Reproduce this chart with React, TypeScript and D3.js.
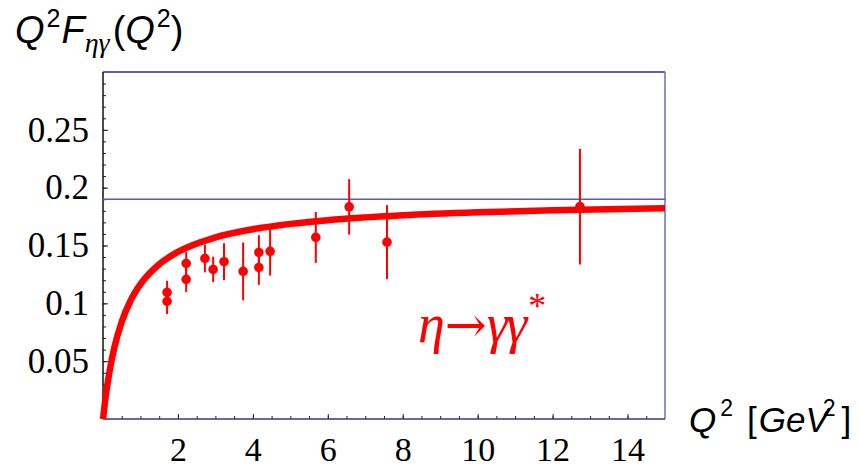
import React, { useEffect, useRef } from 'react'
import * as d3 from 'd3'

// measured data points (Q^2, Q^2 F, error)
const dataQ2 = [1.71, 1.71, 2.22, 2.22, 2.72, 2.94, 3.23, 3.74, 4.16, 4.16, 4.46, 5.68, 6.57, 7.58, 12.73]
const dataF = [0.1095, 0.1017, 0.1345, 0.1207, 0.1388, 0.1293, 0.136, 0.1276, 0.144, 0.131, 0.145, 0.157, 0.1834, 0.1529, 0.1836]
const dataErr = [0.01, 0.011, 0.01, 0.011, 0.012, 0.011, 0.016, 0.025, 0.015, 0.015, 0.021, 0.022, 0.024, 0.032, 0.05]

// theory curve
const curveQ2 = [0, 0.05, 0.1, 0.2, 0.3, 0.5, 0.75, 1, 1.5, 2, 3, 4, 5, 6, 8, 10, 12, 15]
const curveF = [0, 0.014, 0.026, 0.0458, 0.0613, 0.0841, 0.1033, 0.1166, 0.1338, 0.1445, 0.157, 0.1641, 0.1687, 0.1719, 0.1761, 0.1787, 0.1805, 0.1823]

const asymptote = 0.19
const xTicks = [2, 4, 6, 8, 10, 12, 14]
const yTicks = [0.05, 0.1, 0.15, 0.2, 0.25]

const W = 859, H = 467
const margin = { top: 72, right: 195, bottom: 48, left: 103 }

export default function App() {
  const ref = useRef<SVGSVGElement>(null)

  useEffect(() => {
    const svg = d3.select(ref.current)
    svg.selectAll('*').remove()

    const x = d3.scaleLinear().domain([0, 15]).range([margin.left, W - margin.right + 1])
    const y = d3.scaleLinear().domain([0, 0.3]).range([H - margin.bottom, margin.top])

    const serif = '"Liberation Serif", "Times New Roman", serif'
    const sans = '"Liberation Sans", Arial, sans-serif'

    // minor ticks
    svg.append('g')
      .attr('transform', `translate(${margin.left},0)`)
      .call(d3.axisLeft(y).tickValues(d3.range(1, 30).map(i => i / 100)).tickSizeInner(-3).tickSizeOuter(0).tickFormat(() => ''))
      .call(g => g.select('.domain').remove())
      .call(g => g.selectAll('line').attr('stroke', '#222'))
    svg.append('g')
      .attr('transform', `translate(0,${y(0)})`)
      .call(d3.axisBottom(x).tickValues(d3.range(1, 30).map(i => i / 2)).tickSizeInner(-3).tickSizeOuter(0).tickFormat(() => ''))
      .call(g => g.select('.domain').remove())
      .call(g => g.selectAll('line').attr('stroke', '#222'))

    // major ticks + labels
    const yAxis = svg.append('g')
      .attr('transform', `translate(${margin.left},0)`)
      .call(d3.axisLeft(y).tickValues(yTicks).tickSizeInner(-5).tickSizeOuter(0).tickPadding(14).tickFormat(d => String(d)))
    yAxis.select('.domain').remove()
    yAxis.selectAll('line').attr('stroke', '#222')
    yAxis.selectAll('text').attr('font-family', serif).attr('font-size', 35).attr('fill', '#000')

    const xAxis = svg.append('g')
      .attr('transform', `translate(0,${y(0)})`)
      .call(d3.axisBottom(x).tickValues(xTicks).tickSizeInner(-5).tickSizeOuter(0).tickPadding(18).tickFormat(d => String(d)))
    xAxis.select('.domain').remove()
    xAxis.selectAll('line').attr('stroke', '#222')
    xAxis.selectAll('text').attr('font-family', serif).attr('font-size', 34).attr('fill', '#000')

    // frame
    const [x0, x1] = x.range()
    const [yb, yt] = y.range()
    svg.append('line').attr('x1', x0).attr('x2', x1).attr('y1', yt).attr('y2', yt).attr('stroke', '#2a2a96').attr('stroke-width', 1.5)
    svg.append('line').attr('x1', x1).attr('x2', x1).attr('y1', yt).attr('y2', yb).attr('stroke', '#6c6cbc').attr('stroke-width', 1.5)
    svg.append('line').attr('x1', x0).attr('x2', x1).attr('y1', yb).attr('y2', yb).attr('stroke', '#3a3a6a').attr('stroke-width', 1.5)
    svg.append('line').attr('x1', x0).attr('x2', x0).attr('y1', yt).attr('y2', yb).attr('stroke', '#111').attr('stroke-width', 1.5)

    // asymptote
    svg.append('line').attr('x1', x0).attr('x2', x1).attr('y1', y(asymptote)).attr('y2', y(asymptote))
      .attr('stroke', '#5a5ab4').attr('stroke-width', 1.5)

    // theory curve
    const pts = curveQ2.map((q, i) => [q, curveF[i]] as [number, number])
    svg.append('path')
      .datum(pts)
      .attr('fill', 'none')
      .attr('stroke', '#ff0000')
      .attr('stroke-width', 6.5)
      .attr('d', d3.line<[number, number]>().x(d => x(d[0])).y(d => y(d[1])).curve(d3.curveMonotoneX))

    // data with error bars
    const pg = svg.append('g')
    pg.selectAll('line.err')
      .data(dataQ2)
      .enter().append('line')
      .attr('class', 'err')
      .attr('x1', d => x(d)).attr('x2', d => x(d))
      .attr('y1', (d, i) => y(dataF[i] + dataErr[i]))
      .attr('y2', (d, i) => y(dataF[i] - dataErr[i]))
      .attr('stroke', '#ff0000').attr('stroke-width', 2)
    pg.selectAll('circle')
      .data(dataQ2)
      .enter().append('circle')
      .attr('cx', d => x(d))
      .attr('cy', (d, i) => y(dataF[i]))
      .attr('r', 4.8)
      .attr('fill', '#ff0000')

    // title
    const title = svg.append('text').attr('x', 15).attr('y', 43)
      .attr('font-family', sans).attr('font-size', 38).attr('fill', '#000')
    title.append('tspan').attr('font-style', 'italic').text('Q')
    title.append('tspan').attr('font-size', 25).attr('dy', -16).attr('dx', 2).text('2')
    title.append('tspan').attr('font-style', 'italic').attr('dy', 16).attr('dx', 1).text('F')
    title.append('tspan').attr('font-family', serif).attr('font-style', 'italic').attr('font-size', 28).attr('dy', 9).text('ηγ')
    title.append('tspan').attr('dy', -9).attr('dx', 3).text('(')
    title.append('tspan').attr('font-style', 'italic').text('Q')
    title.append('tspan').attr('font-size', 25).attr('dy', -16).attr('dx', 2).text('2')
    title.append('tspan').attr('dy', 16).text(')')

    // x axis label
    const xl = svg.append('text').attr('x', 689).attr('y', 432)
      .attr('font-family', sans).attr('font-size', 35).attr('fill', '#000')
    xl.append('tspan').attr('font-style', 'italic').text('Q')
    xl.append('tspan').attr('font-size', 23).attr('dy', -16).attr('dx', 4).text('2')
    xl.append('tspan').attr('dy', 16).attr('dx', 14).text('[')
    xl.append('tspan').attr('font-style', 'italic').attr('dx', 2).text('GeV')
    xl.append('tspan').attr('font-size', 23).attr('dy', -16).attr('dx', -6).text('2')
    xl.append('tspan').attr('dy', 16).attr('dx', 6).text(']')

    // process label
    const lab = svg.append('text').attr('x', 418).attr('y', 342)
      .attr('font-family', serif).attr('font-size', 54).attr('fill', '#ff0000')
    lab.append('tspan').attr('font-style', 'italic').text('η')
    lab.append('tspan').attr('font-family', '"DejaVu Serif", serif').attr('font-size', 50).attr('dx', 0).text('→')
    lab.append('tspan').attr('font-style', 'italic').attr('dx', 0).text('γ')
    lab.append('tspan').attr('font-style', 'italic').attr('dx', -2).text('γ')
    lab.append('tspan').attr('font-size', 36).attr('dy', -24).attr('dx', 1).text('*')
  }, [])

  return (
    <svg ref={ref} width={W} height={H} style={{ position: 'absolute', left: 0, top: 0, background: '#fff' }} />
  )
}
